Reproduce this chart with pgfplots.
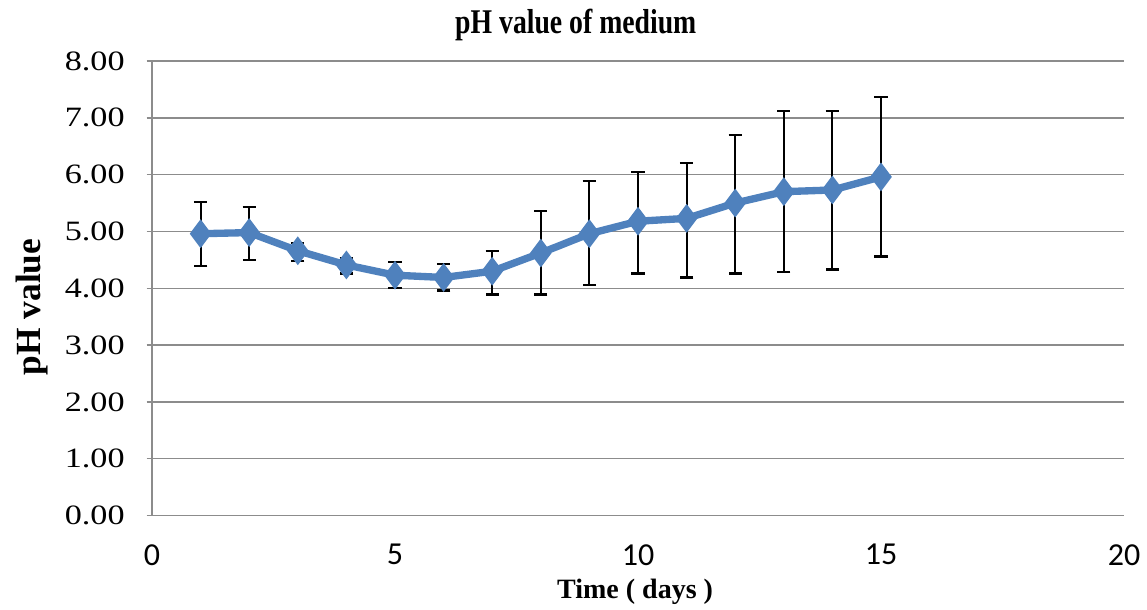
\documentclass[border=0pt]{standalone}
\usepackage{pgfplots}
\pgfplotsset{compat=1.18}
\usepackage{pgfplotstable}
\usepackage{fontspec}
\setmainfont{Liberation Serif}
\newfontfamily\carlito{Carlito}
\newfontfamily\ytf[FakeStretch=1.22]{Liberation Serif}
\newfontfamily\titf[FakeStretch=0.8]{Liberation Serif}
\definecolor{exblue}{HTML}{4F81BD}
\definecolor{gridgray}{HTML}{8C8C8C}
\pgfplotstableread{
x y ep em
1 4.96 0.56 0.57
2 4.98 0.45 0.49
3 4.66 0.13 0.18
4 4.41 0.12 0.15
5 4.23 0.23 0.23
6 4.19 0.23 0.23
7 4.30 0.35 0.41
8 4.62 0.74 0.73
9 4.96 0.93 0.91
10 5.18 0.87 0.92
11 5.23 0.98 1.04
12 5.50 1.20 1.24
13 5.70 1.42 1.41
14 5.73 1.39 1.40
15 5.96 1.41 1.40
}\datatab
\begin{document}
\begin{tikzpicture}
\begin{axis}[
  scale only axis,
  width=729pt, height=340.9pt,
  xmin=0, xmax=20, ymin=0, ymax=8,
  axis x line=bottom, axis y line=left,
  axis line style={-, gridgray, line width=1.1pt},
  xtick={0,5,10,15,20},
  ytick={0,1,...,8},
  ymajorgrids,
  grid style={gridgray, line width=1.1pt},
  xtick style={draw=none},
  ytick style={draw=gridgray, line width=1.1pt},
  tick align=outside,
  major tick length=4pt,
  /pgf/number format/assume math mode=true,
  yticklabel={\pgfmathprintnumber[fixed,fixed zerofill,precision=2]{\tick}},
  yticklabel style={font=\fontsize{21}{24}\selectfont\ytf, xshift=-13pt},
  xticklabel style={font=\fontsize{24}{28}\selectfont\carlito, yshift=-14pt},
  clip=false,
]
\addplot[draw=none, mark=none, forget plot,
  error bars/.cd, y dir=both, y explicit,
  error bar style={draw=black, line width=1.6pt},
  error mark options={rotate=90, draw=black, line width=1.6pt, mark size=5pt}]
  table[x=x, y=y, y error plus=ep, y error minus=em] {\datatab};
\addplot[exblue, line width=5.5pt, mark=diamond*, mark size=10pt,
  mark options={fill=exblue, draw=exblue, line width=1pt}]
  table[x=x, y=y] {\datatab};
\coordinate (sw) at (rel axis cs:0,0);
\coordinate (ne) at (rel axis cs:1,1);
\node[font=\fontsize{26}{30}\selectfont\titf\bfseries] at (rel axis cs:0.436,1.079) {pH value of medium};
\node[font=\fontsize{21}{25}\selectfont\bfseries] at (rel axis cs:0.497,-0.168) {Time ( days )};
\node[font=\fontsize{26.5}{30}\selectfont\bfseries, rotate=90] at ([xshift=-90pt]rel axis cs:0,0.459) {pH value};
\end{axis}
\pgfresetboundingbox
\path[use as bounding box] ([shift={(-114pt,-70.5pt)}]sw) rectangle ([shift={(17.25pt,45.75pt)}]ne);
\end{tikzpicture}
\end{document}
